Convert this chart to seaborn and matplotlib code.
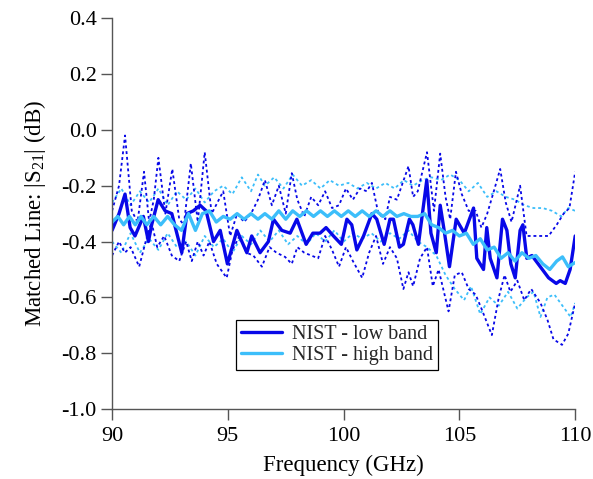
import numpy as np
import pandas as pd
import matplotlib
matplotlib.use("Agg")
import matplotlib.pyplot as plt
import seaborn as sns
from matplotlib.lines import Line2D

# ---- data ----
low_x = [90.0, 90.3, 90.56, 90.78, 90.99, 91.35, 91.57, 91.71, 91.99, 92.29, 92.58, 93.01, 93.23,
         93.51, 93.80, 94.06, 94.38, 94.67, 94.98, 95.39, 95.82, 96.03, 96.39, 96.75, 96.97, 97.33,
         97.69, 97.98, 98.38, 98.67, 98.98, 99.24, 99.56, 99.90, 100.14, 100.35, 100.57, 100.86,
         101.22, 101.43, 101.75, 102.0, 102.15, 102.41, 102.58, 102.84, 102.99, 103.23, 103.59,
         103.77, 104.0, 104.17, 104.34, 104.57, 104.86, 105.21, 105.61, 105.75, 106.04, 106.18,
         106.33, 106.62, 106.86, 107.05, 107.22, 107.41, 107.62, 107.74, 107.91, 108.13, 108.49,
         108.85, 109.18, 109.35, 109.57, 109.78, 110.0]
low_y = [-0.36, -0.30, -0.23, -0.35, -0.38, -0.31, -0.40, -0.34, -0.25, -0.29, -0.30, -0.44, -0.30,
         -0.29, -0.27, -0.29, -0.40, -0.36, -0.48, -0.36, -0.44, -0.38, -0.44, -0.40, -0.32, -0.36,
         -0.37, -0.32, -0.41, -0.37, -0.37, -0.35, -0.38, -0.41, -0.32, -0.34, -0.43, -0.38,
         -0.30, -0.32, -0.41, -0.32, -0.32, -0.42, -0.41, -0.32, -0.34, -0.41, -0.18,
         -0.37, -0.44, -0.27, -0.36, -0.49, -0.32, -0.37, -0.28, -0.46, -0.50, -0.35,
         -0.46, -0.53, -0.32, -0.36, -0.48, -0.53, -0.36, -0.34, -0.46, -0.45, -0.49,
         -0.53, -0.55, -0.54, -0.55, -0.50, -0.38]

high_x = [90.0, 90.25, 90.5, 90.75, 91.0, 91.25, 91.5, 91.8, 92.1, 92.4, 92.7, 93.0, 93.3, 93.6,
          93.9, 94.2, 94.5, 94.8, 95.1, 95.4, 95.7, 96.0, 96.3, 96.6, 96.9, 97.2, 97.5, 97.8, 98.1,
          98.4, 98.7, 99.0, 99.3, 99.6, 99.9, 100.2, 100.5, 100.8, 101.1, 101.4, 101.7, 102.0,
          102.3, 102.6, 102.9, 103.2, 103.5, 103.8, 104.1, 104.4, 104.7, 105.0, 105.3, 105.6,
          105.9, 106.2, 106.5, 106.8, 107.1, 107.4, 107.7, 108.0, 108.3, 108.6, 108.9, 109.2,
          109.45, 109.7, 110.0]
high_y = [-0.33, -0.31, -0.34, -0.31, -0.34, -0.31, -0.34, -0.31, -0.34, -0.31, -0.34, -0.36, -0.30,
          -0.36, -0.30, -0.29, -0.33, -0.31, -0.32, -0.30, -0.32, -0.30, -0.32, -0.30, -0.32, -0.29,
          -0.32, -0.29, -0.31, -0.29, -0.31, -0.29, -0.31, -0.29, -0.31, -0.29, -0.31, -0.29, -0.31,
          -0.29, -0.31, -0.29, -0.31, -0.30, -0.31, -0.31, -0.30, -0.34, -0.35, -0.37, -0.36, -0.38,
          -0.37, -0.41, -0.39, -0.43, -0.42, -0.46, -0.44, -0.47, -0.44, -0.46, -0.45, -0.48, -0.50,
          -0.47, -0.455, -0.49, -0.475]

low_up_x = [90.0, 90.3, 90.56, 90.85, 91.1, 91.38, 91.6, 91.8, 92.0, 92.3, 92.6, 92.9, 93.1, 93.4,
            93.7, 94.0, 94.3, 94.55, 94.8, 95.1, 95.4, 95.7, 96.0, 96.3, 96.6, 96.9, 97.2, 97.5,
            97.76, 98.0, 98.3, 98.6, 98.9, 99.2, 99.5, 99.8, 100.1, 100.4, 100.7, 101.0, 101.22,
            101.5, 101.8, 102.0, 102.3, 102.55, 102.8, 103.0, 103.2, 103.6, 103.9, 104.17, 104.4,
            104.6, 104.85, 105.1, 105.4, 105.7, 105.95, 106.2, 106.45, 106.76, 107.0, 107.25,
            107.62, 107.9, 108.2, 108.5, 108.85, 109.2, 109.5, 109.75, 110.0]
low_up_y = [-0.29, -0.20, -0.02, -0.29, -0.33, -0.15, -0.33, -0.25, -0.10, -0.30, -0.14, -0.32, -0.34,
            -0.12, -0.33, -0.08, -0.30, -0.26, -0.22, -0.38, -0.30, -0.33, -0.30, -0.25, -0.18, -0.27,
            -0.20, -0.30, -0.155, -0.25, -0.31, -0.24, -0.27, -0.22, -0.28, -0.27, -0.21, -0.25, -0.21,
            -0.22, -0.19, -0.30, -0.32, -0.24, -0.25, -0.19, -0.13, -0.24, -0.22, -0.08, -0.29, -0.085,
            -0.24, -0.32, -0.15, -0.23, -0.29, -0.29, -0.35, -0.30, -0.23, -0.14, -0.26, -0.33,
            -0.20, -0.38, -0.38, -0.38, -0.38, -0.34, -0.30, -0.28, -0.15]

low_lo_x = [90.0, 90.3, 90.55, 90.8, 91.17, 91.45, 91.7, 91.95, 92.25, 92.58, 92.9, 93.2, 93.44,
            93.7, 93.95, 94.2, 94.52, 94.95, 95.2, 95.5, 95.8, 96.1, 96.47, 96.8, 97.1, 97.47, 97.76,
            98.0, 98.3, 98.6, 98.9, 99.2, 99.5, 99.8, 100.1, 100.4, 100.8, 101.1, 101.4, 101.7,
            102.0, 102.3, 102.58, 102.8, 103.0, 103.3, 103.6, 103.85, 104.1, 104.53, 104.8, 105.1,
            105.4, 105.7, 105.95, 106.4, 106.7, 106.95, 107.2, 107.5, 107.8, 108.1, 108.5, 108.8,
            109.06, 109.43, 109.7, 110.0]
low_lo_y = [-0.45, -0.40, -0.44, -0.42, -0.49, -0.40, -0.33, -0.42, -0.38, -0.45, -0.47, -0.40, -0.47,
            -0.40, -0.45, -0.40, -0.48, -0.53, -0.43, -0.38, -0.44, -0.45, -0.49, -0.42, -0.44, -0.455,
            -0.48, -0.42, -0.44, -0.45, -0.46, -0.38, -0.43, -0.49, -0.42, -0.47, -0.53, -0.44, -0.38,
            -0.48, -0.42, -0.46, -0.57, -0.51, -0.56, -0.46, -0.42, -0.56, -0.50, -0.65, -0.52, -0.51,
            -0.57, -0.59, -0.64, -0.735, -0.60, -0.52, -0.58, -0.54, -0.61, -0.57, -0.62, -0.68,
            -0.75, -0.77, -0.73, -0.62]

high_up_x = [90.0, 90.4, 90.8, 91.2, 91.6, 92.0, 92.4, 92.8, 93.2, 93.6, 94.0, 94.4, 94.8, 95.2,
             95.6, 96.0, 96.3, 96.6, 97.0, 97.4, 97.8, 98.2, 98.6, 99.0, 99.4, 99.8, 100.2, 100.6,
             101.0, 101.4, 101.8, 102.2, 102.6, 103.0, 103.4, 103.8, 104.2, 104.6, 105.0, 105.4,
             105.8, 106.2, 106.6, 107.0, 107.4, 107.8, 108.2, 108.6, 109.0, 109.4, 109.7, 110.0]
high_up_y = [-0.26, -0.21, -0.27, -0.22, -0.26, -0.21, -0.27, -0.22, -0.25, -0.21, -0.26, -0.22,
             -0.20, -0.23, -0.17, -0.22, -0.16, -0.20, -0.17, -0.21, -0.16, -0.20, -0.18, -0.21,
             -0.18, -0.20, -0.19, -0.21, -0.19, -0.21, -0.19, -0.21, -0.18, -0.20, -0.18, -0.17,
             -0.18, -0.16, -0.18, -0.22, -0.19, -0.24, -0.22, -0.24, -0.25, -0.27, -0.28, -0.28,
             -0.29, -0.31, -0.28, -0.29]

high_lo_x = [90.0, 90.4, 90.8, 91.2, 91.6, 92.0, 92.4, 92.8, 93.2, 93.6, 94.0, 94.4, 94.8, 95.2,
             95.6, 96.0, 96.4, 96.8, 97.2, 97.6, 98.0, 98.4, 98.8, 99.2, 99.6, 100.0, 100.4, 100.8,
             101.2, 101.6, 102.0, 102.4, 102.8, 103.2, 103.6, 104.0, 104.4, 104.8, 105.2, 105.5,
             105.9, 106.3, 106.7, 107.1, 107.5, 107.9, 108.2, 108.5, 108.8, 109.1, 109.45, 109.8,
             110.0]
high_lo_y = [-0.40, -0.44, -0.37, -0.44, -0.39, -0.43, -0.37, -0.42, -0.40, -0.45, -0.38, -0.42,
             -0.39, -0.44, -0.38, -0.41, -0.36, -0.40, -0.36, -0.41, -0.38, -0.41, -0.37, -0.40,
             -0.36, -0.40, -0.37, -0.39, -0.37, -0.40, -0.37, -0.39, -0.36, -0.40, -0.42, -0.45,
             -0.52, -0.57, -0.61, -0.56, -0.66, -0.60, -0.63, -0.58, -0.64, -0.60, -0.58, -0.67,
             -0.60, -0.59, -0.63, -0.67, -0.62]

x_ticks = [90, 95, 100, 105, 110]
y_ticks = [0.4, 0.2, 0.0, -0.2, -0.4, -0.6, -0.8, -1.0]

# ---- style ----
sns.set_theme(style="ticks")
plt.rcParams["font.family"] = ["Liberation Serif", "DejaVu Serif"]
plt.rcParams["mathtext.fontset"] = "custom"
plt.rcParams["mathtext.rm"] = "Liberation Serif"
plt.rcParams["mathtext.it"] = "Liberation Serif:italic"

DARK = "#0808e8"
LIGHT = "#3cbefa"

fig = plt.figure(figsize=(5.93, 4.79), dpi=100)
ax = fig.add_axes([0.189, 0.146, 0.781, 0.816])

def draw(xs, ys, color, lw, ls, label=None):
    df = pd.DataFrame({"x": xs, "y": ys})
    sns.lineplot(data=df, x="x", y="y", ax=ax, color=color, linewidth=lw,
                 linestyle=ls, sort=False, estimator=None, label=label, legend=False)

dash = (0, (1.6, 1.6))
draw(high_up_x, high_up_y, LIGHT, 1.3, dash)
draw(high_lo_x, high_lo_y, LIGHT, 1.3, dash)
draw(low_up_x, low_up_y, DARK, 1.3, dash)
draw(low_lo_x, low_lo_y, DARK, 1.3, dash)
draw(low_x, low_y, DARK, 2.4, "-", "NIST - low band")
draw(high_x, high_y, LIGHT, 2.4, "-", "NIST - high band")

ax.set_xlim(90, 110)
ax.set_ylim(-1.0, 0.4)
ax.set_xticks(x_ticks)
ax.set_yticks(y_ticks)
ax.set_yticklabels([f"{v:.1f}" for v in y_ticks])
ax.tick_params(axis="both", labelsize=16, direction="out", length=8, width=1.0,
               color="#555555", labelcolor="black", pad=3)
ax.tick_params(axis="x", pad=5)
for s in ["top", "right"]:
    ax.spines[s].set_visible(False)
for s in ["left", "bottom"]:
    ax.spines[s].set_color("#555555")
    ax.spines[s].set_linewidth(1.0)

ax.set_xlabel("Frequency (GHz)", fontsize=16.5, color="black", labelpad=6)
ax.set_ylabel(r"Matched Line: |S$\mathregular{_{21}}$| (dB)", fontsize=16.5, color="black", labelpad=10)

handles = [Line2D([], [], color=DARK, lw=2.4), Line2D([], [], color=LIGHT, lw=2.4)]
leg = ax.legend(handles, ["NIST - low band", "NIST - high band"], loc="lower left",
                bbox_to_anchor=(0.268, 0.10), fontsize=14.5, frameon=True, fancybox=False,
                edgecolor="black", framealpha=1, handlelength=2.0, handletextpad=0.5,
                borderpad=0.25, labelspacing=0.1, borderaxespad=0)
leg.get_frame().set_linewidth(0.9)

fig.savefig("out.png", dpi=100)
